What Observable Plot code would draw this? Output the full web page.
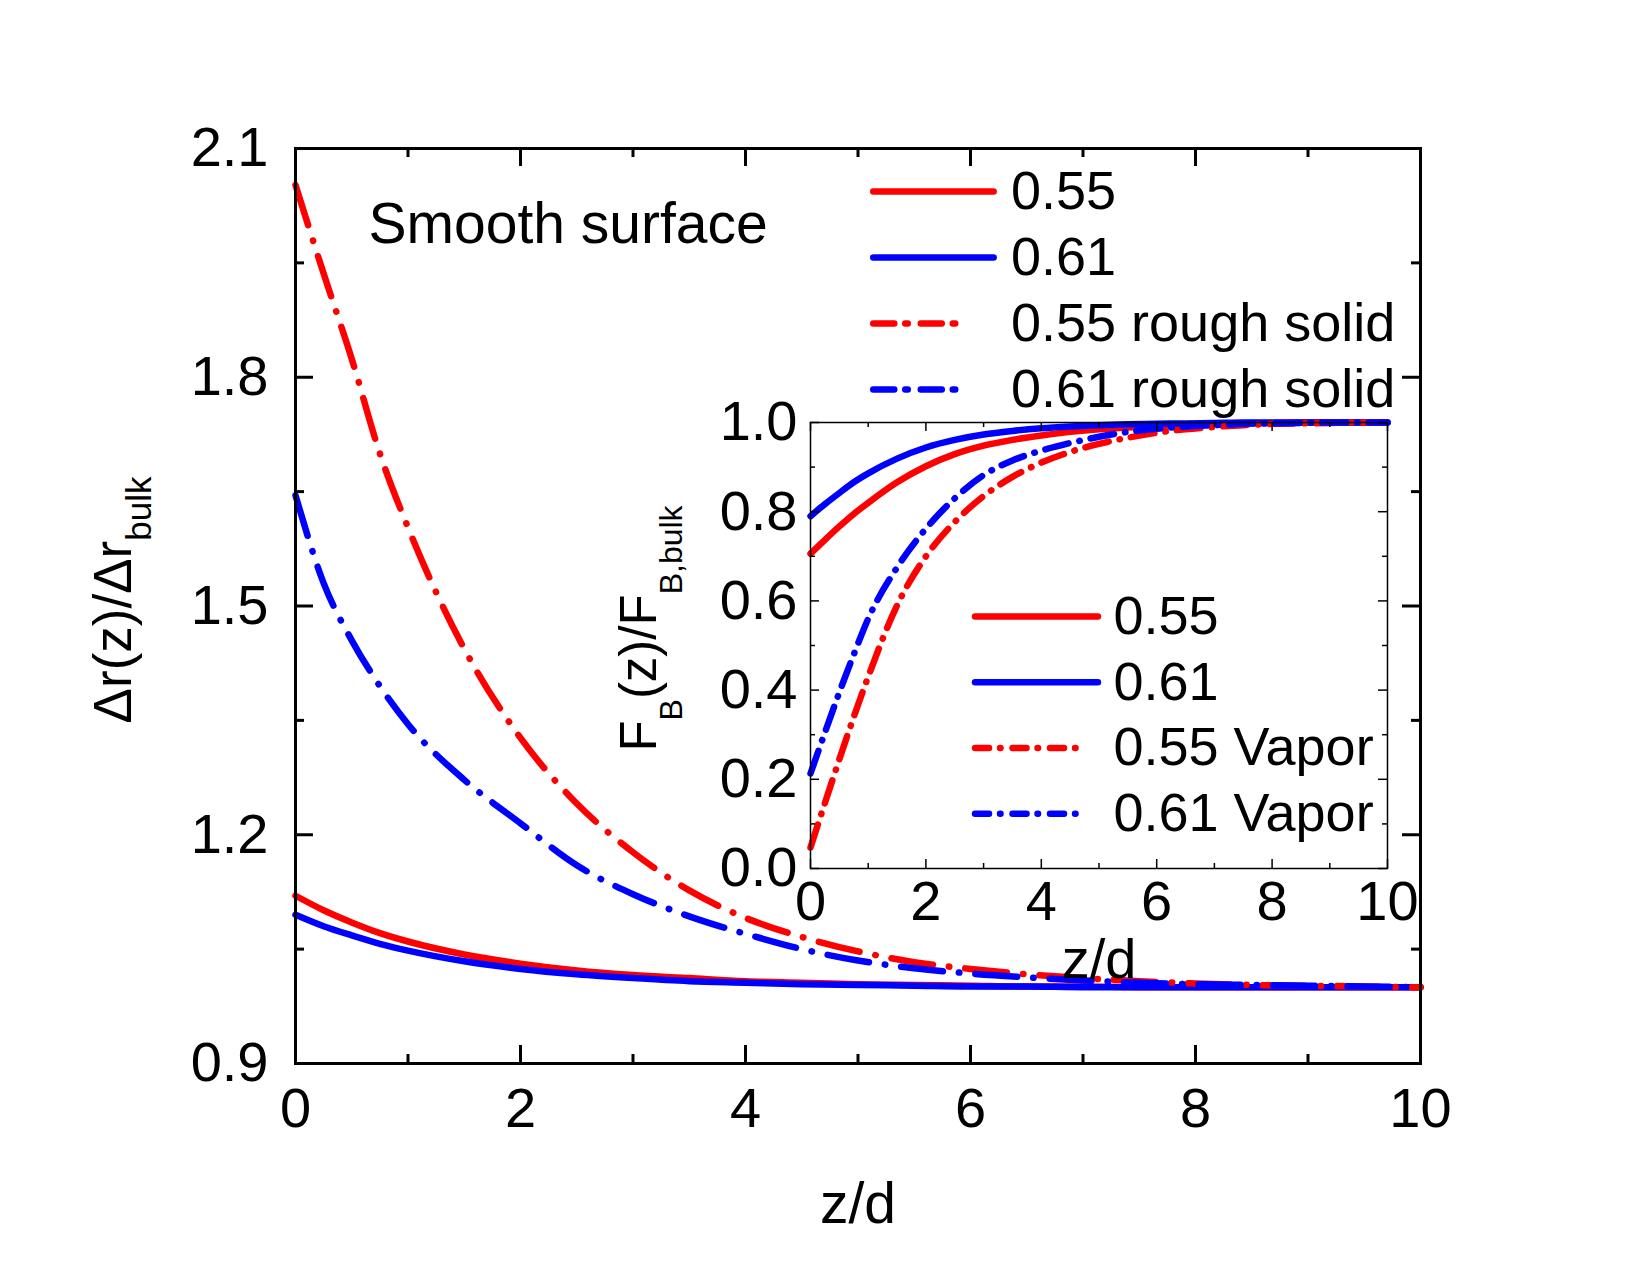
<!DOCTYPE html>
<html>
<head>
<meta charset="utf-8">
<script src="https://cdn.jsdelivr.net/npm/d3@7"></script>
<script src="https://cdn.jsdelivr.net/npm/@observablehq/plot@0.6"></script>
<style>
  html, body { margin: 0; padding: 0; background: #fff; }
  #chart { position: relative; width: 1650px; height: 1275px; overflow: hidden; }
  #chart svg { position: absolute; max-width: none; }
</style>
</head>
<body>
<div id="chart"></div>
<script>
// Distance from the wall, in particle diameters
const z = [0, 0.25, 0.5, 0.75, 1, 1.5, 2, 2.5, 3, 3.5, 4, 4.5, 5, 5.5, 6, 6.5, 7, 7.5, 8, 8.5, 9, 9.5, 10];

// Δr(z)/Δr_bulk, smooth surface and rough solid
const drSmooth055 = [1.120, 1.101, 1.085, 1.071, 1.060, 1.043, 1.031, 1.022, 1.016, 1.012, 1.008, 1.006, 1.004, 1.003, 1.002, 1.001, 1.001, 1.000, 1.000, 1.000, 1.000, 1.000, 1.000];
const drSmooth061 = [1.095, 1.080, 1.068, 1.057, 1.048, 1.034, 1.024, 1.017, 1.012, 1.008, 1.006, 1.004, 1.003, 1.002, 1.001, 1.001, 1.000, 1.000, 1.000, 1.000, 1.000, 1.000, 1.000];
const drRough055  = [2.052, 1.936, 1.824, 1.700, 1.603, 1.444, 1.327, 1.241, 1.177, 1.127, 1.091, 1.066, 1.047, 1.033, 1.024, 1.017, 1.012, 1.008, 1.005, 1.003, 1.002, 1.001, 1.000];
const drRough061  = [1.645, 1.530, 1.455, 1.395, 1.345, 1.272, 1.215, 1.160, 1.122, 1.093, 1.070, 1.050, 1.035, 1.025, 1.018, 1.013, 1.009, 1.006, 1.004, 1.003, 1.002, 1.001, 1.000];

// F_B(z)/F_B,bulk, smooth surface and vapor interface
const fb055       = [0.706, 0.737, 0.767, 0.795, 0.820, 0.866, 0.902, 0.929, 0.948, 0.961, 0.971, 0.979, 0.985, 0.989, 0.992, 0.995, 0.997, 0.998, 0.999, 1.000, 1.000, 1.000, 1.000];
const fb061       = [0.790, 0.817, 0.842, 0.866, 0.886, 0.919, 0.944, 0.961, 0.973, 0.981, 0.987, 0.991, 0.994, 0.996, 0.997, 0.998, 0.999, 1.000, 1.000, 1.000, 1.000, 1.000, 1.000];
const fbVapor055  = [0.047, 0.147, 0.245, 0.340, 0.430, 0.590, 0.700, 0.777, 0.835, 0.878, 0.910, 0.934, 0.952, 0.966, 0.977, 0.985, 0.990, 0.994, 0.997, 0.998, 0.999, 1.000, 1.000];
const fbVapor061  = [0.213, 0.305, 0.395, 0.480, 0.560, 0.675, 0.762, 0.830, 0.882, 0.915, 0.937, 0.954, 0.968, 0.979, 0.986, 0.991, 0.994, 0.997, 0.998, 0.999, 1.000, 1.000, 1.000];

// Legend labels
const mainLegend  = ["0.55", "0.61", "0.55 rough solid", "0.61 rough solid"];
const insetLegend = ["0.55", "0.61", "0.55 Vapor", "0.61 Vapor"];

// Annotation and axis titles (odd entries are subscripts)
const annotation = "Smooth surface";
const xTitle = "z/d";
const yTitleMain  = ["Δr(z)/Δr", "bulk"];
const yTitleInset = ["F", "B", "(z)/F", "B,bulk"];

// Tick values
const xMajor = [0, 2, 4, 6, 8, 10];
const xMinor = [1, 3, 5, 7, 9];
const yMajorMain = [0.9, 1.2, 1.5, 1.8, 2.1];
const yMinorMain = [1.05, 1.35, 1.65, 1.95];
const yMajorInset = [0, 0.2, 0.4, 0.6, 0.8, 1.0];
const yMinorInset = [0.1, 0.3, 0.5, 0.7, 0.9];

// ---- styling ----
const RED = "#ff0000", BLUE = "#0000ff";
const FONT = "'Liberation Sans', Arial, Helvetica, sans-serif";
const LW = 6.5;
const rows = (vals) => z.map((zz, i) => ({z: zz, v: vals[i]}));
const lineStyle = {strokeWidth: LW, strokeLinecap: "round", strokeLinejoin: "round", curve: "monotone-x"};

// frame ticks pointing inward on all four sides
function frameTicks(fw, fh, xMaj, xMin, yMaj, yMin, major, minor, sw) {
  return [
    Plot.tickX(xMaj, {x: d => d, insetTop: fh - major, strokeWidth: sw}),
    Plot.tickX(xMaj, {x: d => d, insetBottom: fh - major, strokeWidth: sw}),
    Plot.tickX(xMin, {x: d => d, insetTop: fh - minor, strokeWidth: sw}),
    Plot.tickX(xMin, {x: d => d, insetBottom: fh - minor, strokeWidth: sw}),
    Plot.tickY(yMaj, {y: d => d, insetRight: fw - major, strokeWidth: sw}),
    Plot.tickY(yMaj, {y: d => d, insetLeft: fw - major, strokeWidth: sw}),
    Plot.tickY(yMin, {y: d => d, insetRight: fw - minor, strokeWidth: sw}),
    Plot.tickY(yMin, {y: d => d, insetLeft: fw - minor, strokeWidth: sw})
  ];
}

// legend: line samples and labels placed in data units
function legendMarks(labels, x1, x2Solid, x2Dash, tx, y0, step, dashes, fontSize) {
  const colors = [RED, BLUE, RED, BLUE];
  const marks = [];
  labels.forEach((label, i) => {
    const y = y0 - i * step;
    const dashed = i >= 2;
    marks.push(Plot.ruleY([y], {
      x1: x1, x2: dashed ? x2Dash : x2Solid,
      stroke: colors[i], strokeWidth: LW, strokeLinecap: "round",
      strokeDasharray: dashed ? dashes : null
    }));
    marks.push(Plot.text([label], {
      x: tx, y: y, text: d => d, textAnchor: "start", lineAnchor: "middle", fontSize
    }));
  });
  return marks;
}

// ---- main chart ----
const M = {w: 1650, h: 1275, l: 295, r: 230, t: 148, b: 212};
const mfw = M.w - M.l - M.r, mfh = M.h - M.t - M.b;
const mainDash = "42,16,0.5,16";

const main = Plot.plot({
  width: M.w, height: M.h,
  marginLeft: M.l, marginRight: M.r, marginTop: M.t, marginBottom: M.b,
  style: {fontFamily: FONT, background: "transparent", overflow: "visible"},
  x: {domain: [0, 10]},
  y: {domain: [0.9, 2.1]},
  marks: [
    Plot.line(rows(drSmooth055), {x: "z", y: "v", stroke: RED, ...lineStyle}),
    Plot.line(rows(drSmooth061), {x: "z", y: "v", stroke: BLUE, ...lineStyle}),
    Plot.line(rows(drRough055), {x: "z", y: "v", stroke: RED, strokeDasharray: mainDash, ...lineStyle}),
    Plot.line(rows(drRough061), {x: "z", y: "v", stroke: BLUE, strokeDasharray: mainDash, ...lineStyle}),
    ...frameTicks(mfw, mfh, xMajor, xMinor, yMajorMain, yMinorMain, 18, 9, 3),
    Plot.frame({strokeWidth: 3}),
    Plot.axisX({ticks: xMajor, tickSize: 0, tickPadding: 24, fontSize: 56, label: null, tickFormat: d3.format("d")}),
    Plot.axisY({ticks: yMajorMain, tickSize: 0, tickPadding: 27, fontSize: 56, label: null, tickFormat: d3.format(".1f")}),
    Plot.text([annotation], {frameAnchor: "top-left", dx: 73, dy: 94, textAnchor: "start", lineAnchor: "bottom", fontSize: 57, text: d => d}),
    Plot.text([xTitle], {frameAnchor: "bottom", dy: 159, textAnchor: "middle", lineAnchor: "bottom", fontSize: 57, text: d => d}),
    Plot.text([yTitleMain.join("")], {frameAnchor: "left", rotate: -90, dx: -165, dy: -6, textAnchor: "middle", lineAnchor: "bottom", fontSize: 53, text: d => d}),
    ...legendMarks(mainLegend, 5.14, 6.21, 5.94, 6.36, 2.0436, 0.0866, "21,11,2.5,13", 54)
  ]
});

// ---- inset chart ----
const I = {left: 560, top: 372, w: 860, h: 640, l: 250, r: 33, t: 50, b: 144};
const ifw = I.w - I.l - I.r, ifh = I.h - I.t - I.b;
const insetDash = "24,11,0.5,11";

const inset = Plot.plot({
  width: I.w, height: I.h,
  marginLeft: I.l, marginRight: I.r, marginTop: I.t, marginBottom: I.b,
  style: {fontFamily: FONT, background: "transparent", overflow: "visible"},
  x: {domain: [0, 10]},
  y: {domain: [0, 1]},
  marks: [
    Plot.line(rows(fb055), {x: "z", y: "v", stroke: RED, ...lineStyle}),
    Plot.line(rows(fb061), {x: "z", y: "v", stroke: BLUE, ...lineStyle}),
    Plot.line(rows(fbVapor055), {x: "z", y: "v", stroke: RED, strokeDasharray: insetDash, ...lineStyle}),
    Plot.line(rows(fbVapor061), {x: "z", y: "v", stroke: BLUE, strokeDasharray: insetDash, ...lineStyle}),
    ...frameTicks(ifw, ifh, xMajor, xMinor, yMajorInset, yMinorInset, 9, 5, 1.5),
    Plot.frame({strokeWidth: 1.5}),
    Plot.axisX({ticks: xMajor, tickSize: 0, tickPadding: 12, fontSize: 56, label: null, tickFormat: d3.format("d")}),
    Plot.axisY({ticks: yMajorInset, tickSize: 0, tickPadding: 13, fontSize: 56, label: null, tickFormat: d3.format(".1f")}),
    Plot.text([xTitle], {frameAnchor: "bottom", dy: 109, textAnchor: "middle", lineAnchor: "bottom", fontSize: 56, text: d => d}),
    Plot.text([yTitleInset.join("")], {frameAnchor: "left", rotate: -90, dx: -155, dy: -17, textAnchor: "middle", lineAnchor: "bottom", fontSize: 51, text: d => d}),
    ...legendMarks(insetLegend, 2.86, 4.99, 4.63, 5.25, 0.565, 0.1475, "14,11,0.5,12", 54)
  ]
});

// subscripts in the axis titles
function subscriptTitle(svg, parts, subSize, shift) {
  const plain = parts.join("");
  d3.select(svg).selectAll("text")
    .filter(function () { return this.textContent === plain; })
    .each(function () {
      const el = d3.select(this).text(null);
      let down = false;
      parts.forEach((str, i) => {
        const sub = i % 2 === 1;
        const ts = el.append("tspan").text(str);
        if (sub) ts.attr("font-size", subSize);
        if (sub && !down) { ts.attr("dy", shift); down = true; }
        else if (!sub && down) { ts.attr("dy", -shift); down = false; }
      });
    });
}
subscriptTitle(main, yTitleMain, 35, 20);
subscriptTitle(inset, yTitleInset, 32, 26);

const chart = document.getElementById("chart");
main.style.left = "0px"; main.style.top = "0px";
inset.style.left = I.left + "px"; inset.style.top = I.top + "px";
chart.appendChild(main);
chart.appendChild(inset);
</script>
</body>
</html>
